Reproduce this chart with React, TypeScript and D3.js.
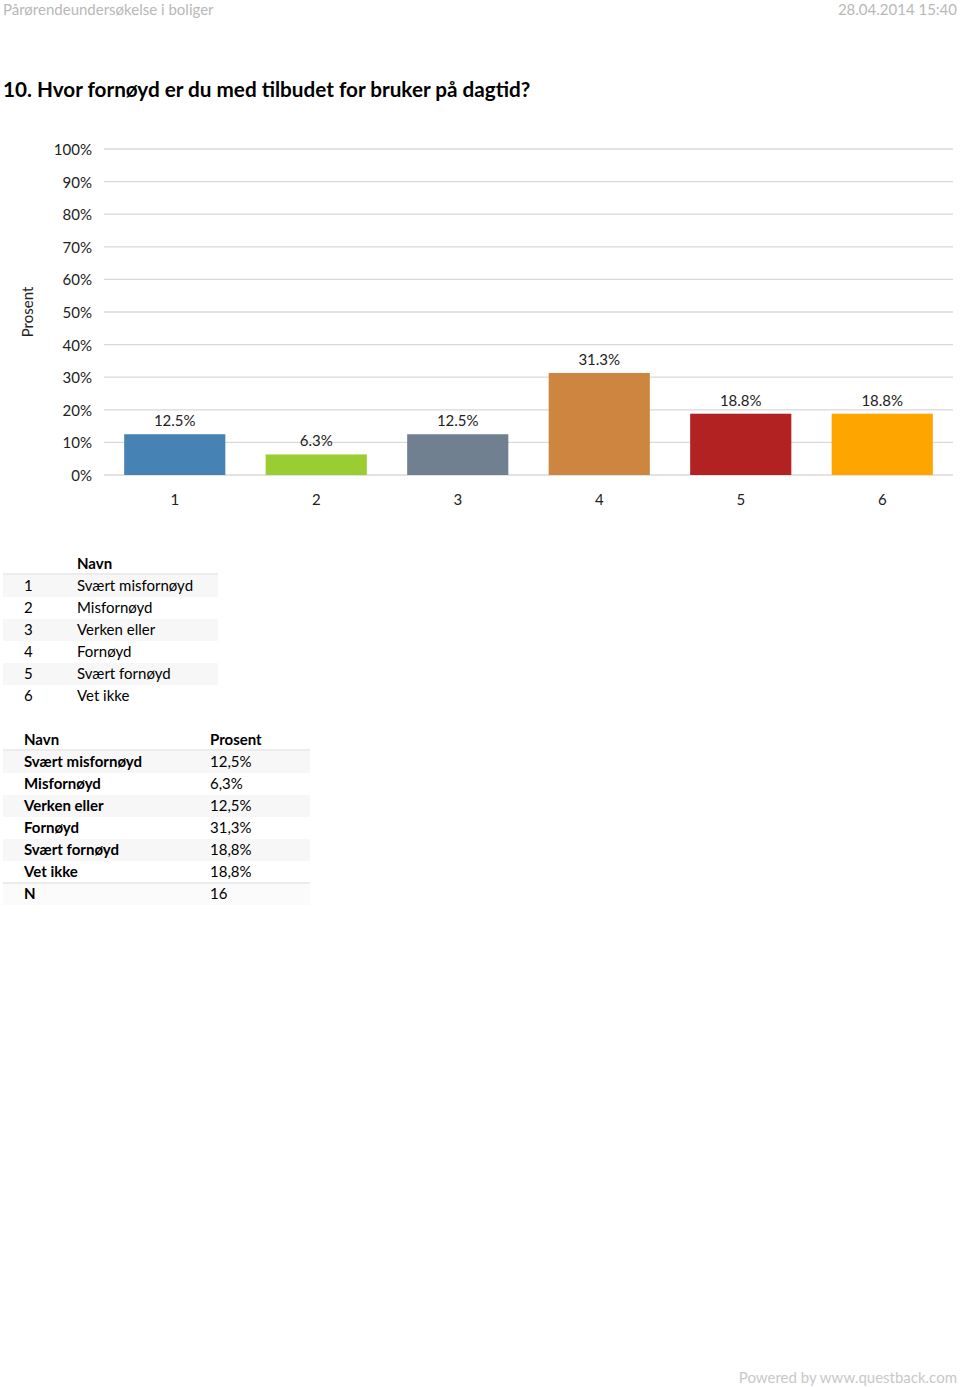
import React from "react";
import * as d3 from "d3";

const categories = ["1", "2", "3", "4", "5", "6"];
const values = [12.5, 6.3, 12.5, 31.3, 18.8, 18.8];
const colors = ["#4682B4", "#9ACD32", "#708090", "#CD853F", "#B22222", "#FFA500"];
const yTicks = [0, 10, 20, 30, 40, 50, 60, 70, 80, 90, 100];
const names = ["Svært misfornøyd", "Misfornøyd", "Verken eller", "Fornøyd", "Svært fornøyd", "Vet ikke"];
const pctLabels = ["12,5%", "6,3%", "12,5%", "31,3%", "18,8%", "18,8%"];
const nValue = "16";

const FONT = "Lato, 'Open Sans', sans-serif";

export default function App() {
  const W = 960, H = 1387;
  const x = d3.scaleBand<string>().domain(categories).range([104, 953]).paddingInner(0.285).paddingOuter(0.1425);
  const y = d3.scaleLinear().domain([0, 100]).range([475, 149]);
  const rowH = 22;
  const t1Top = 575;
  const t2Top = 751;

  return (
    <svg width={W} height={H} style={{ position: "absolute", left: 0, top: 0 }} fontFamily={FONT}>
      <rect width={W} height={H} fill="#fff" />
      <text x={3} y={15} fontSize={15} fill="#b8b8b8">Pårørendeundersøkelse i boliger</text>
      <text x={957} y={15} fontSize={15} fill="#b8b8b8" textAnchor="end">28.04.2014 15:40</text>
      <text x={3} y={97} fontSize={20.7} fontWeight="bold" fill="#000">10. Hvor fornøyd er du med tilbudet for bruker på dagtid?</text>

      {yTicks.map((t) => (
        <g key={t}>
          <line x1={104} x2={953} y1={y(t)} y2={y(t)} stroke="#d9d9d9" strokeWidth={1.3} />
          <text x={92} y={y(t) + 6} fontSize={15} textAnchor="end" fill="#222">{t}%</text>
        </g>
      ))}
      <text transform={`translate(33,312) rotate(-90)`} fontSize={15} textAnchor="middle" fill="#222">Prosent</text>

      {categories.map((c, i) => (
        <g key={c}>
          <rect x={x(c)} y={y(values[i])} width={x.bandwidth()} height={y(0) - y(values[i])} fill={colors[i]} />
          <text x={(x(c) as number) + x.bandwidth() / 2} y={y(values[i]) - 8} fontSize={15} textAnchor="middle" fill="#222">{values[i].toFixed(1)}%</text>
          <text x={(x(c) as number) + x.bandwidth() / 2} y={505} fontSize={15} textAnchor="middle" fill="#222">{c}</text>
        </g>
      ))}

      {/* Table 1 */}
      <text x={77} y={569} fontSize={15} fontWeight="bold" fill="#000">Navn</text>
      <line x1={3} x2={218} y1={574} y2={574} stroke="#e6e6e6" strokeWidth={1.5} />
      {categories.map((c, i) => (
        <g key={"t1" + c}>
          {i % 2 === 0 && <rect x={3} y={t1Top + i * rowH} width={215} height={rowH} fill="#f7f7f7" />}
          <text x={24} y={t1Top + i * rowH + 16} fontSize={15} fill="#000">{c}</text>
          <text x={77} y={t1Top + i * rowH + 16} fontSize={15} fill="#000">{names[i]}</text>
        </g>
      ))}

      {/* Table 2 */}
      <text x={24} y={745} fontSize={15} fontWeight="bold" fill="#000">Navn</text>
      <text x={210} y={745} fontSize={15} fontWeight="bold" fill="#000">Prosent</text>
      <line x1={3} x2={310} y1={750} y2={750} stroke="#e6e6e6" strokeWidth={1.5} />
      {names.map((n, i) => (
        <g key={"t2" + i}>
          {i % 2 === 0 && <rect x={3} y={t2Top + i * rowH} width={307} height={rowH} fill="#f7f7f7" />}
          <text x={24} y={t2Top + i * rowH + 16} fontSize={15} fontWeight="bold" fill="#000">{n}</text>
          <text x={210} y={t2Top + i * rowH + 16} fontSize={15} fill="#000">{pctLabels[i]}</text>
        </g>
      ))}
      <line x1={3} x2={310} y1={t2Top + 6 * rowH} y2={t2Top + 6 * rowH} stroke="#e6e6e6" strokeWidth={1.5} />
      <rect x={3} y={t2Top + 6 * rowH + 1} width={307} height={rowH - 1} fill="#fbfbfb" />
      <text x={24} y={t2Top + 6 * rowH + 16} fontSize={15} fontWeight="bold" fill="#000">N</text>
      <text x={210} y={t2Top + 6 * rowH + 16} fontSize={15} fill="#000">{nValue}</text>

      <text x={957} y={1383} fontSize={15} fill="#c8c8c8" textAnchor="end">Powered by www.questback.com</text>
    </svg>
  );
}
